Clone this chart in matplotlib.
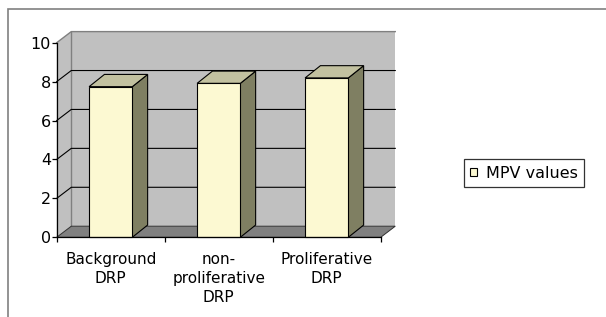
import matplotlib
matplotlib.use("Agg")
import matplotlib.pyplot as plt
from matplotlib.patches import Polygon, Patch, Rectangle
import numpy as np

categories = ["Background\nDRP", "non-\nproliferative\nDRP", "Proliferative\nDRP"]
mpv_values = [7.74, 7.91, 8.19]
series_name = "MPV values"
y_ticks = [0, 2, 4, 6, 8, 10]

W, H = 606, 317
WALL_DX, WALL_DY = 0.135, 0.57   # depth of walls in data units
BAR_DX, BAR_DY = 0.142, 0.63     # depth of the bars
BAR_W = 0.40

FRONT = "#fcf9d2"
TOP = "#c2c1a0"
SIDE = "#7f7f62"
WALL = "#c0c0c0"
FLOOR = "#808080"

plt.rcParams["font.family"] = ["DejaVu Sans"]
plt.rcParams["font.size"] = 11

fig = plt.figure(figsize=(W / 100, H / 100), dpi=100)
ax = fig.add_axes([56.7 / W, 1 - 237.3 / H, (380.7 - 56.7) / W, (237.3 - 42.7) / H])
ax.set_xlim(0, len(categories))
ax.set_ylim(0, 10)
ax.patch.set_visible(False)

ymax = y_ticks[-1]
ncat = len(categories)

# side wall and back wall
ax.add_patch(Polygon([(0, 0), (0, ymax), (WALL_DX, ymax + WALL_DY), (WALL_DX, WALL_DY)],
                     closed=True, facecolor=WALL, edgecolor="none", clip_on=False, zorder=0))
ax.add_patch(Polygon([(WALL_DX, WALL_DY), (WALL_DX, ymax + WALL_DY),
                      (ncat + WALL_DX, ymax + WALL_DY), (ncat + WALL_DX, WALL_DY)],
                     closed=True, facecolor=WALL, edgecolor="none", clip_on=False, zorder=0))
ax.plot([WALL_DX, WALL_DX], [WALL_DY, ymax + WALL_DY], color="#808080", lw=1, clip_on=False, zorder=1)
ax.plot([0, WALL_DX, ncat + WALL_DX], [ymax, ymax + WALL_DY, ymax + WALL_DY],
        color="#808080", lw=1, clip_on=False, zorder=1)

# gridlines
for v in y_ticks[1:-1]:
    ax.plot([0, WALL_DX, ncat + WALL_DX], [v, v + WALL_DY, v + WALL_DY],
            color="black", lw=0.8, clip_on=False, zorder=1)

# floor
ax.add_patch(Polygon([(0, 0), (ncat, 0), (ncat + WALL_DX, WALL_DY), (WALL_DX, WALL_DY)],
                     closed=True, facecolor=FLOOR, edgecolor="#303030", lw=0.7,
                     clip_on=False, zorder=2))

# bars
for i, v in enumerate(mpv_values):
    x0 = i + 0.5 - BAR_W / 2
    x1 = x0 + BAR_W
    kw = dict(closed=True, edgecolor="black", lw=0.8, clip_on=False, zorder=3)
    ax.add_patch(Polygon([(x1, 0), (x1 + BAR_DX, BAR_DY), (x1 + BAR_DX, v + BAR_DY), (x1, v)],
                         facecolor=SIDE, **kw))
    ax.add_patch(Polygon([(x0, v), (x1, v), (x1 + BAR_DX, v + BAR_DY), (x0 + BAR_DX, v + BAR_DY)],
                         facecolor=TOP, **kw))
    ax.add_patch(Polygon([(x0, 0), (x1, 0), (x1, v), (x0, v)], facecolor=FRONT, **kw))

# axes
for s in ("top", "right"):
    ax.spines[s].set_visible(False)
for s in ("left", "bottom"):
    ax.spines[s].set_linewidth(0.9)
    ax.spines[s].set_zorder(4)
ax.set_yticks(y_ticks)
ax.tick_params(axis="y", direction="out", length=3.6, width=0.9, pad=0.5, labelsize=11.5)
ax.set_xticks(np.arange(ncat + 1))
ax.set_xticklabels([])
ax.set_xticks(np.arange(ncat) + 0.5, minor=True)
ax.set_xticklabels(categories, minor=True, linespacing=1.32)
ax.tick_params(axis="x", which="major", direction="out", length=3.6, width=0.9)
ax.tick_params(axis="x", which="minor", length=0, pad=10.5, labelsize=11)

# legend
leg = fig.legend(handles=[Patch(facecolor=FRONT, edgecolor="black", lw=0.8, label=series_name)],
                 loc="center left", bbox_to_anchor=(464.3 / W, 1 - 173 / H),
                 frameon=True, fancybox=False, handlelength=0.42, handleheight=0.42,
                 handletextpad=0.55, borderpad=0.38, borderaxespad=0, fontsize=11.5)
leg.get_frame().set_edgecolor("black")
leg.get_frame().set_linewidth(0.9)

# outer chart border (right and bottom edges fall outside the picture)
fig.add_artist(Rectangle((8.3 / W, -0.1), 1.2, 1.1 - 8.5 / H, transform=fig.transFigure,
                         fill=False, edgecolor="#808080", lw=1.2))

fig.savefig("out.png", dpi=100)
